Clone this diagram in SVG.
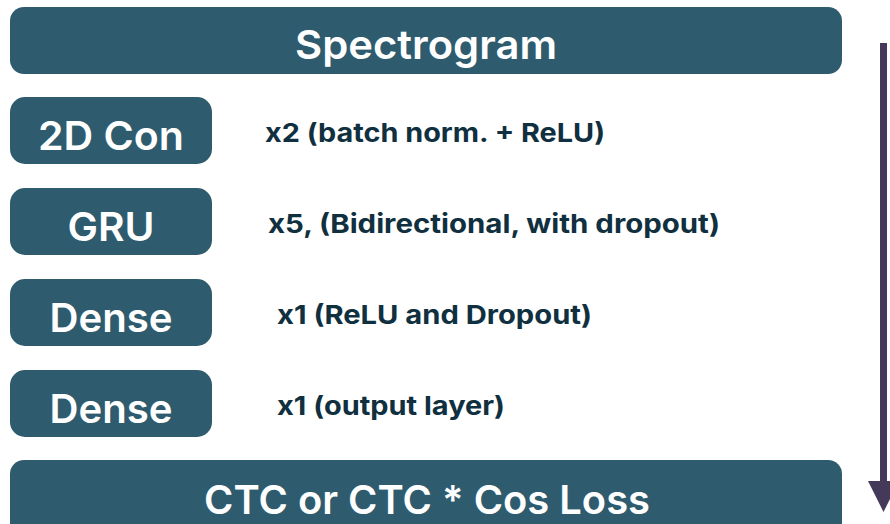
<svg xmlns="http://www.w3.org/2000/svg" width="890" height="524" viewBox="0 0 890 524">
  <style>
    .box { fill: #2e5c6e; }
    .lbl { fill: #ffffff; font-family: Inter, "Liberation Sans", sans-serif; font-weight: 600; font-size: 40px; text-anchor: middle; }
    .side { fill: #10303f; font-family: Inter, "Liberation Sans", sans-serif; font-weight: 700; font-size: 26px; }
    .arrow { stroke: #45395a; stroke-width: 7; fill: none; }
    .head { fill: #45395a; }
  </style>
  <rect x="0" y="0" width="890" height="524" fill="#ffffff"/>

  <g id="spectrogram">
    <rect class="box" x="10" y="7" width="832" height="67" rx="14"/>
    <text class="lbl" x="426" y="59" textLength="262" lengthAdjust="spacingAndGlyphs">Spectrogram</text>
  </g>

  <g id="conv2d">
    <rect class="box" x="10" y="97" width="202" height="67" rx="15"/>
    <text class="lbl" x="111" y="150" textLength="146" lengthAdjust="spacingAndGlyphs">2D Con</text>
    <text class="side" x="265" y="142" textLength="340" lengthAdjust="spacingAndGlyphs">x2 (batch norm. + ReLU)</text>
  </g>

  <g id="gru">
    <rect class="box" x="10" y="188" width="202" height="67" rx="15"/>
    <text class="lbl" x="111" y="241" textLength="87" lengthAdjust="spacingAndGlyphs">GRU</text>
    <text class="side" x="268" y="233" textLength="452" lengthAdjust="spacingAndGlyphs">x5, (Bidirectional, with dropout)</text>
  </g>

  <g id="dense1">
    <rect class="box" x="10" y="279" width="202" height="67" rx="15"/>
    <text class="lbl" x="111" y="332" textLength="123" lengthAdjust="spacingAndGlyphs">Dense</text>
    <text class="side" x="277" y="324" textLength="315" lengthAdjust="spacingAndGlyphs">x1 (ReLU and Dropout)</text>
  </g>

  <g id="dense2">
    <rect class="box" x="10" y="370" width="202" height="67" rx="15"/>
    <text class="lbl" x="111" y="423" textLength="123" lengthAdjust="spacingAndGlyphs">Dense</text>
    <text class="side" x="277" y="415" textLength="228" lengthAdjust="spacingAndGlyphs">x1 (output layer)</text>
  </g>

  <g id="loss">
    <rect class="box" x="10" y="460" width="832" height="80" rx="14"/>
    <text class="lbl" x="427" y="514" textLength="446" lengthAdjust="spacingAndGlyphs">CTC or CTC * Cos Loss</text>
  </g>

  <g id="connectors">
    <line class="arrow" x1="883.5" y1="43" x2="883.5" y2="482"/>
    <polygon class="head" points="868,481 899,481 883.5,512"/>
  </g>
</svg>
